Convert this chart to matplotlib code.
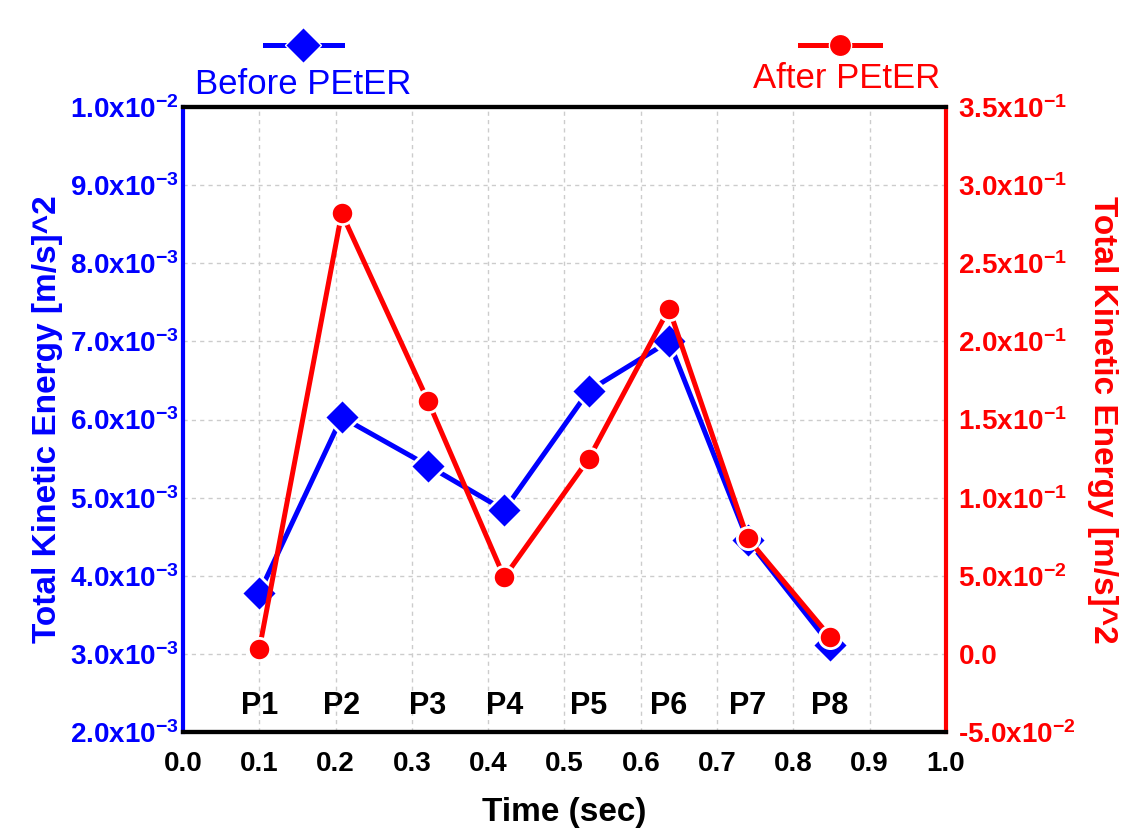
import numpy as np
import matplotlib
matplotlib.use("Agg")
import matplotlib.pyplot as plt
from matplotlib.lines import Line2D

plt.rcParams['font.family'] = ['Liberation Sans', 'DejaVu Sans']
plt.rcParams['mathtext.fontset'] = 'custom'
plt.rcParams['mathtext.rm'] = 'Liberation Sans:bold'
plt.rcParams['mathtext.bf'] = 'Liberation Sans:bold'
plt.rcParams['mathtext.default'] = 'bf'
plt.rcParams['axes.unicode_minus'] = False

# data
times = [0.1, 0.208, 0.321, 0.421, 0.532, 0.637, 0.740, 0.848]
points = ['P1', 'P2', 'P3', 'P4', 'P5', 'P6', 'P7', 'P8']
before = [3.78e-3, 6.03e-3, 5.41e-3, 4.84e-3, 6.37e-3, 7.00e-3, 4.46e-3, 3.12e-3]
after = [0.003, 0.282, 0.162, 0.049, 0.125, 0.221, 0.074, 0.011]

left_ticks = np.arange(2e-3, 1.05e-2, 1e-3)
right_ticks = np.arange(-0.05, 0.36, 0.05)
x_ticks = np.arange(0, 1.05, 0.1)

BLUE = '#0000ff'
RED = '#ff0000'

fig = plt.figure(figsize=(11.31, 8.34), dpi=100)
ax = fig.add_axes([0.1618, 0.1223, 0.6746, 0.7494])
ax2 = ax.twinx()

# before PEtER on left axis
ax.plot(times, before, color=BLUE, lw=3.6, marker='D', ms=18,
        mec='white', mew=2, zorder=3)
# after PEtER on right axis
ax2.plot(times, after, color=RED, lw=3.6, marker='o', ms=16,
         mec='white', mew=2, zorder=3)

ax.set_xlim(0, 1.0)
ax.set_ylim(2e-3, 1e-2)
ax2.set_ylim(-0.05, 0.35)

ax.set_xticks(x_ticks)
ax.set_xticklabels(['%.1f' % v for v in x_ticks], fontsize=20, fontweight='bold')


def sci_label(v):
    if abs(v) < 1e-12:
        return '0.0'
    e = int(np.floor(np.log10(abs(v)) + 1e-9))
    m = v / 10 ** e
    sign = '-' if m < 0 else ''
    return sign + r'%.1fx10$^{%d}$' % (abs(m), e)


ax.set_yticks(left_ticks)
ax.set_yticklabels([sci_label(v) for v in left_ticks], fontsize=20, color=BLUE,
                   fontweight='bold')
ax2.set_yticks(right_ticks)
ax2.set_yticklabels([sci_label(v) for v in right_ticks], fontsize=20, color=RED,
                    fontweight='bold')

ax.tick_params(axis='x', length=0, pad=14)
ax.tick_params(axis='y', length=0, pad=3)
ax2.tick_params(axis='y', length=0, pad=9)

ax.grid(True, color='#cccccc', ls=(0, (3, 3)), lw=1)
ax.set_axisbelow(True)

for s in ['top', 'bottom']:
    ax.spines[s].set_linewidth(3)
    ax.spines[s].set_color('black')
ax.spines['left'].set_color(BLUE)
ax.spines['left'].set_linewidth(3)
ax2.spines['right'].set_color(RED)
ax2.spines['right'].set_linewidth(3)
ax2.spines['left'].set_visible(False)
ax2.spines['top'].set_linewidth(3)
ax2.spines['bottom'].set_linewidth(3)

ax.set_xlabel('Time (sec)', fontsize=24, fontweight='bold', labelpad=14)
ax.set_ylabel('Total Kinetic Energy [m/s]^2', fontsize=24, fontweight='bold',
              color=BLUE, labelpad=5)
ax2.set_ylabel('Total Kinetic Energy [m/s]^2', fontsize=24, fontweight='bold',
               color=RED, rotation=270, labelpad=30)

# point labels
for t, p in zip(times, points):
    ax.text(t, 2.33e-3, p, ha='center', va='center', fontsize=22,
            fontweight='bold', color='black')

# legend keys above the plot
fig.add_artist(Line2D([265 / 1131, 342 / 1131], [1 - 45 / 834] * 2, color=BLUE,
                      lw=3.6, transform=fig.transFigure))
fig.add_artist(Line2D([303 / 1131], [1 - 45 / 834], color=BLUE, marker='D', ms=18,
                      mec='white', mew=1, transform=fig.transFigure))
fig.text(303 / 1131, 1 - 84 / 834, 'Before PEtER', ha='center', va='center',
         fontsize=25, color=BLUE)
fig.add_artist(Line2D([800 / 1131, 880 / 1131], [1 - 45 / 834] * 2, color=RED,
                      lw=3.6, transform=fig.transFigure))
fig.add_artist(Line2D([840 / 1131], [1 - 45 / 834], color=RED, marker='o', ms=16,
                      mec='white', mew=1, transform=fig.transFigure))
fig.text(847 / 1131, 1 - 78 / 834, 'After PEtER', ha='center', va='center',
         fontsize=25, color=RED)

fig.savefig('out.png', dpi=100)
